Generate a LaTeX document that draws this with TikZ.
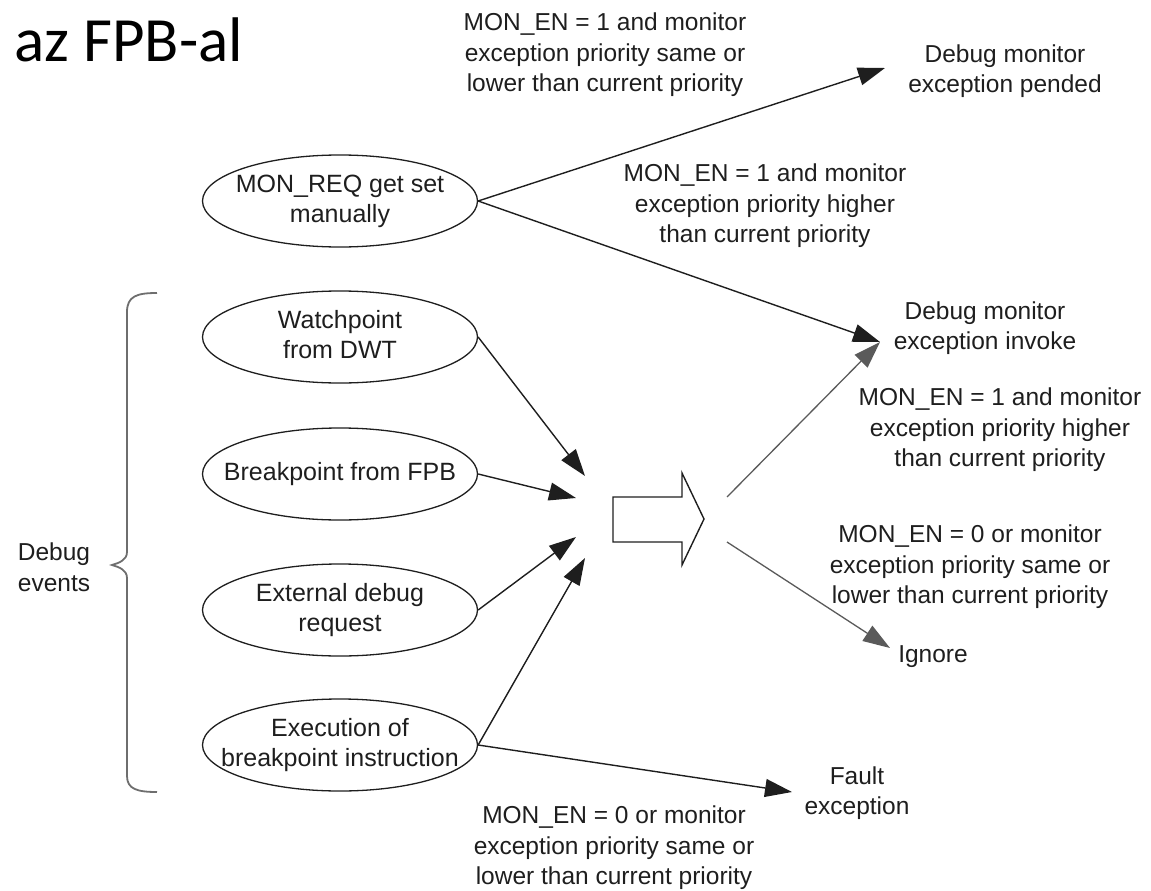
\documentclass[tikz,border=0pt]{standalone}
\usepackage{fontspec}
\setmainfont{Liberation Sans}
\newfontfamily\titlefont{Carlito}
\usetikzlibrary{shapes.geometric,arrows.meta}
\definecolor{ink}{HTML}{1E1E1E}
\definecolor{wire}{HTML}{5A5A5A}
\definecolor{bracecol}{HTML}{6E6E6E}
% centred lines whose width does not widen the surrounding ellipse
\newcommand{\evtext}[1]{\makebox[0pt][c]{\begin{tabular}{@{}c@{}}#1\end{tabular}}}
\begin{document}
\begin{tikzpicture}[x=1pt,y=-1pt,
  event/.style={ellipse,draw=ink,line width=1.3pt,minimum width=275pt,minimum height=92pt,
    inner sep=0pt,font=\fontsize{25}{30}\selectfont,text=ink},
  lbl/.style={align=center,inner sep=0pt,font=\fontsize{24.5}{30.5}\selectfont,text=ink},
  flow/.style={draw=ink,line width=1.4pt,-{Triangle[length=27pt,width=18pt]}},
  outflow/.style={draw=wire,line width=1.3pt,-{Triangle[length=27pt,width=18pt]}},
  brace/.style={draw=bracecol,line width=1.8pt}]
\useasboundingbox (0,0) rectangle (1151,891);

% title
\node[anchor=base west,inner sep=0pt,font=\titlefont\fontsize{63}{70}\selectfont] (title) at (14,62) {az FPB-al};

% event sources
\node[event] (mreq)  at (340,201) {\evtext{MON\_REQ get set\\manually}};
\node[event] (watch) at (340,337) {\evtext{Watchpoint\\from DWT}};
\node[event] (fpb)   at (340,474) {\evtext{Breakpoint from FPB}};
\node[event] (ext)   at (340,610) {\evtext{External debug\\request}};
\node[event] (bkpt)  at (340,745) {\evtext{Execution of\\breakpoint instruction}};

% outcomes
\node[lbl] (pended) at (1005,71)  {Debug monitor\\exception pended};
\node[lbl] (invoke) at (985,328)  {Debug monitor\\exception invoke};
\node[lbl] (ignore) at (933,657)  {Ignore};
\node[lbl] (fault)  at (857,793)  {Fault\\exception};
\node[lbl] (events) at (54,567)   {Debug\\events};

% conditions
\node[lbl] (c1) at (605,55)   {MON\_EN = 1 and monitor\\exception priority same or\\lower than current priority};
\node[lbl] (c2) at (765,206)  {MON\_EN = 1 and monitor\\exception priority higher\\than current priority};
\node[lbl] (c3) at (1000,430) {MON\_EN = 1 and monitor\\exception priority higher\\than current priority};
\node[lbl] (c4) at (970,567)  {MON\_EN = 0 or monitor\\exception priority same or\\lower than current priority};
\node[lbl] (c5) at (614,848)  {MON\_EN = 0 or monitor\\exception priority same or\\lower than current priority};

% arrow end points
\coordinate (pendtip)  at (885,68);
\coordinate (invtip)   at (880,342);
\coordinate (h1)       at (585,476);
\coordinate (h2)       at (576,498);
\coordinate (h3)       at (576,537);
\coordinate (h4)       at (585,558);
\coordinate (faulttip) at (792,792);
\coordinate (igntip)   at (890,648);
\coordinate (o1)       at (727,497);
\coordinate (o2)       at (727,542);

% connectors
\draw[flow] (mreq.east) -- (pendtip);
\draw[flow] (mreq.east) -- (invtip);
\draw[flow] (watch.east) -- (h1);
\draw[flow] (fpb.east) -- (h2);
\draw[flow] (ext.east) -- (h3);
\draw[flow] (bkpt.east) -- (h4);
\draw[flow] (bkpt.east) -- (faulttip);
\draw[outflow] (o1) -- (invtip);
\draw[outflow] (o2) -- (igntip);

% hollow block arrow
\draw[ink,line width=1.4pt,line join=miter] (613,497) -- (682,497) -- (682,473) -- (704,519)
  -- (682,565) -- (682,542) -- (613,542) -- cycle;

% brace grouping the debug events
\draw[brace] (157,293) .. controls (137,293) and (127,296) .. (127,312) -- (127,552)
  .. controls (127,560) and (119,563) .. (112,565)
  .. controls (119,567) and (127,570) .. (127,578) -- (127,776)
  .. controls (127,789) and (137,792) .. (157,792);
\end{tikzpicture}
\end{document}
